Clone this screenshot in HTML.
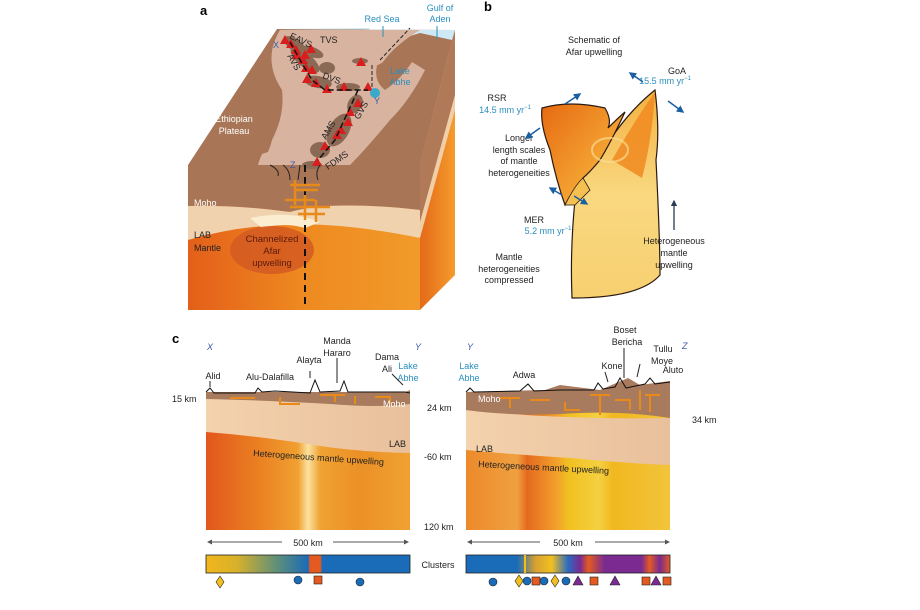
<!DOCTYPE html>
<html><head><meta charset="utf-8"><style>
body{margin:0;background:#fff}
svg{display:block;font-family:"Liberation Sans",sans-serif}
</style></head><body>
<svg width="920" height="610" viewBox="0 0 920 610">
<defs>
<linearGradient id="mant" x1="0" x2="1" y1="0" y2="0">
<stop offset="0" stop-color="#e45f1a"/><stop offset="0.5" stop-color="#ee8a20"/><stop offset="1" stop-color="#f19a2a"/></linearGradient>
<linearGradient id="rside" x1="0" x2="1"><stop offset="0" stop-color="#e46a18"/><stop offset="1" stop-color="#f59b2c"/></linearGradient>
<linearGradient id="ml" x1="0" x2="1">
<stop offset="0" stop-color="#e2571c"/><stop offset="0.25" stop-color="#ea7f22"/><stop offset="0.45" stop-color="#f0a030"/><stop offset="0.5" stop-color="#fbe2a0"/><stop offset="0.56" stop-color="#f0a232"/><stop offset="0.75" stop-color="#ec9026"/><stop offset="1" stop-color="#efa232"/></linearGradient>
<linearGradient id="mr" x1="0" x2="1">
<stop offset="0" stop-color="#ec8a2a"/><stop offset="0.25" stop-color="#f0a040"/><stop offset="0.3" stop-color="#e56a20"/><stop offset="0.45" stop-color="#f3a22c"/><stop offset="0.5" stop-color="#f1c020"/><stop offset="0.65" stop-color="#f5d040"/><stop offset="0.72" stop-color="#f0b820"/><stop offset="1" stop-color="#f3c43a"/></linearGradient>
<linearGradient id="tan" x1="0" x2="1"><stop offset="0" stop-color="#f3d2ac"/><stop offset="1" stop-color="#e9c09c"/></linearGradient>
<linearGradient id="cl" x1="0" x2="1">
<stop offset="0" stop-color="#f1b61c"/><stop offset="0.15" stop-color="#d8b12a"/><stop offset="0.35" stop-color="#5e8f7a"/><stop offset="0.5" stop-color="#1a6bb8"/><stop offset="0.51" stop-color="#e55a20"/><stop offset="0.56" stop-color="#e55a20"/><stop offset="0.57" stop-color="#1a6bb8"/><stop offset="1" stop-color="#1a6bb8"/></linearGradient>
<linearGradient id="cr" x1="0" x2="1">
<stop offset="0" stop-color="#1a6bb8"/><stop offset="0.25" stop-color="#1a6bb8"/><stop offset="0.34" stop-color="#d8a030"/><stop offset="0.42" stop-color="#f1c020"/><stop offset="0.5" stop-color="#2b6bc0"/><stop offset="0.56" stop-color="#7a2a90"/><stop offset="0.6" stop-color="#e45a20"/><stop offset="0.68" stop-color="#7a2a90"/><stop offset="0.86" stop-color="#7a2a90"/><stop offset="0.9" stop-color="#e45a20"/><stop offset="0.95" stop-color="#7a2a90"/><stop offset="1" stop-color="#e45a20"/></linearGradient>
<linearGradient id="bg1" x1="0" x2="1" y1="0" y2="1"><stop offset="0" stop-color="#e66a12"/><stop offset="0.6" stop-color="#f3a030"/><stop offset="1" stop-color="#f7c860"/></linearGradient>
<linearGradient id="bg2" x1="0" x2="0" y1="0" y2="1"><stop offset="0" stop-color="#f3b040"/><stop offset="0.5" stop-color="#f9d880"/><stop offset="1" stop-color="#f7d070"/></linearGradient>
<marker id="ab" viewBox="0 0 10 10" refX="8" refY="5" markerWidth="5" markerHeight="5" orient="auto"><path d="M0,0L10,5L0,10z" fill="#1a5fa0"/></marker>
<marker id="ak" viewBox="0 0 10 10" refX="8" refY="5" markerWidth="5" markerHeight="5" orient="auto"><path d="M0,0L10,5L0,10z" fill="#2a3a55"/></marker>
<marker id="ag" viewBox="0 0 10 10" refX="8" refY="5" markerWidth="5" markerHeight="5" orient="auto"><path d="M0,0L10,5L0,10z" fill="#555"/></marker>
</defs>

<!-- PANEL A -->
<text x="200" y="15" font-size="13" font-weight="bold">a</text>
<polygon points="420,165 455,30 455,275 420,310" fill="url(#rside)"/>
<polygon points="420,165 455,30 455,95 420,222" fill="#b07a58"/>
<polygon points="420,222 455,95 455,110 420,238" fill="#f0cfa8"/>
<rect x="188" y="165" width="232" height="145" fill="url(#mant)"/>
<path d="M188,165H420V210Q330,200 290,212Q240,205 188,206Z" fill="#a87656"/>
<path d="M188,206Q240,205 290,212Q330,200 420,210V238Q340,222 290,225Q240,225 188,240Z" fill="#f0d2ae"/>
<path d="M250,218Q290,210 320,222L305,228Q285,222 262,228Z" fill="#fbeed0"/>
<ellipse cx="272" cy="250" rx="42" ry="24" fill="#d45a22" opacity="0.85"/>
<polygon points="188,165 277,29 455,30 420,165" fill="#a87656"/>
<path d="M277,29 L455,30 L452,40 L420,33 L380,45 L372,60 L360,48 L370,28Z" fill="#cfe8f5"/>
<path d="M280,30 L370,30 Q385,45 378,62 Q372,80 385,90 Q400,80 412,62 L425,70 Q410,100 390,120 Q365,150 350,165 L258,165 Q262,150 272,140 Q285,115 282,90 Q262,60 280,30Z" fill="#d8b4a0"/>
<path d="M330,30 L420,30 Q395,45 383,62 Q372,70 366,62 Q345,45 330,36Z" fill="#d8b4a0"/>
<path d="M200,150 Q225,100 262,88 Q282,120 268,152 Q240,162 205,162Z" fill="#a87656"/>
<text x="234" y="122" font-size="9" fill="#fff" text-anchor="middle">Ethiopian</text>
<text x="234" y="134" font-size="9" fill="#fff" text-anchor="middle">Plateau</text>
<g fill="#8b6a55">
<ellipse cx="295" cy="45" rx="13" ry="6" transform="rotate(35 295 45)"/>
<ellipse cx="305" cy="60" rx="18" ry="7" transform="rotate(40 305 60)"/>
<ellipse cx="312" cy="52" rx="12" ry="5" transform="rotate(20 312 52)"/>
<ellipse cx="327" cy="68" rx="8" ry="6"/>
<ellipse cx="318" cy="82" rx="14" ry="6" transform="rotate(10 318 82)"/>
<ellipse cx="348" cy="87" rx="12" ry="4"/>
<ellipse cx="360" cy="61" rx="8" ry="3"/>
<ellipse cx="355" cy="104" rx="7" ry="10" transform="rotate(30 355 104)"/>
<ellipse cx="339" cy="130" rx="10" ry="18" transform="rotate(30 339 130)"/>
<ellipse cx="320" cy="150" rx="10" ry="8"/>
<ellipse cx="312" cy="165" rx="10" ry="4"/>
</g>
<g fill="#d91e1e">
<polygon points="285,35 290,44 280,44"/><polygon points="291,39 296,48 286,48"/><polygon points="296,45 301,54 291,54"/>
<polygon points="297,50 302,59 292,59"/><polygon points="305,50 310,59 300,59"/><polygon points="311,44 316,53 306,53"/>
<polygon points="303,55 308,64 298,64"/><polygon points="306,63 311,72 301,72"/><polygon points="316,78 321,87 311,87"/>
<polygon points="312,65 317,74 307,74"/><polygon points="307,74 312,83 302,83"/><polygon points="327,84 332,93 322,93"/>
<polygon points="344,82 349,91 339,91"/><polygon points="368,82 373,91 363,91"/><polygon points="361,57 366,66 356,66"/>
<polygon points="358,98 363,107 353,107"/><polygon points="350,107 355,116 345,116"/><polygon points="348,117 353,126 343,126"/>
<polygon points="341,125 346,134 336,134"/><polygon points="337,130 342,139 332,139"/><polygon points="325,141 330,150 320,150"/>
<polygon points="317,157 322,166 312,166"/>
</g>
<circle cx="375" cy="93" r="5" fill="#3aa8c8"/>
<path d="M290,42 L300,60 L312,80 L325,90 L368,90 M358,90 L335,140 L318,160" stroke="#111" stroke-width="1.5" stroke-dasharray="6,3" fill="none"/>
<path d="M372,65 V88 M380,60 L410,28" stroke="#222" stroke-width="1" stroke-dasharray="4,2" fill="none"/>
<path d="M305,165 V305" stroke="#111" stroke-width="2" stroke-dasharray="7,5"/>
<g stroke="#e88a1a" stroke-width="2.5" fill="none">
<path d="M290,185H320M295,190H318M285,200H315M290,207H330M298,214H325M305,195V220M295,180V205M316,200V222"/>
</g>
<g stroke="#222" stroke-width="1" fill="none"><path d="M283,165 Q290,170 290,180 M300,165 L298,180 M320,165 Q315,172 318,180 M270,165Q280,170 278,176"/></g>
<g font-size="9" fill="#222">
<text x="289" y="38" transform="rotate(25 289 38)">EAVS</text>
<text x="320" y="43">TVS</text>
<text x="287" y="56" transform="rotate(60 287 56)">AVS</text>
<text x="322" y="78" transform="rotate(20 322 78)">DVS</text>
<text x="359" y="120" transform="rotate(-60 359 120)">GVS</text>
<text x="326" y="140" transform="rotate(-60 326 140)">AMS</text>
<text x="328" y="170" transform="rotate(-35 328 170)">FDMS</text>
<text x="194" y="206" fill="#fff">Moho</text>
<text x="194" y="238">LAB</text>
<text x="194" y="251">Mantle</text>
</g>
<text x="272" y="242" font-size="9.5" fill="#5a1a0a" text-anchor="middle">Channelized</text>
<text x="272" y="254" font-size="9.5" fill="#5a1a0a" text-anchor="middle">Afar</text>
<text x="272" y="266" font-size="9.5" fill="#5a1a0a" text-anchor="middle">upwelling</text>
<g font-size="9" fill="#3d5aa8"><text x="273" y="48">X</text><text x="374" y="104">Y</text><text x="290" y="168">Z</text></g>
<g font-size="9" fill="#2a8ec0">
<text x="382" y="22" text-anchor="middle">Red Sea</text>
<text x="440" y="11" text-anchor="middle">Gulf of</text><text x="440" y="22" text-anchor="middle">Aden</text>
<text x="400" y="74" text-anchor="middle">Lake</text><text x="400" y="85" text-anchor="middle">Abhe</text>
</g>
<path d="M383,26V37M437,26V39" stroke="#2a8ec0" stroke-width="1"/>

<!-- PANEL B -->
<text x="484" y="11" font-size="13" font-weight="bold">b</text>
<path d="M575,200 Q578,185 582,175 Q600,165 610,140 Q630,110 655,90 Q660,130 656,160 Q660,240 660,275 Q640,298 572,298 Q570,250 575,200Z" fill="url(#bg2)" stroke="#2a1a10" stroke-width="1.2"/>
<path d="M612,160 Q635,120 655,92 Q652,140 642,178Z" fill="#f08a20" opacity="0.85"/>
<path d="M542,108 Q570,100 605,108 Q612,120 608,128 Q618,118 625,112 Q612,140 600,160 Q590,172 583,178 Q570,195 565,205 Q556,180 550,150 Q540,125 542,108Z" fill="url(#bg1)" stroke="#2a1a10" stroke-width="1.2"/>
<path d="M565,205 Q575,185 583,178 L590,190 Q580,200 575,205Z" fill="#f5c050" stroke="#2a1a10" stroke-width="0.8"/>
<ellipse cx="610" cy="150" rx="18" ry="12" fill="none" stroke="#fbdc90" stroke-width="2" opacity="0.7"/>
<g font-size="9" fill="#222" text-anchor="middle">
<text x="594" y="43">Schematic of</text><text x="594" y="55">Afar upwelling</text>
<text x="677" y="74">GoA</text>
<text x="497" y="101">RSR</text>
<text x="519" y="141">Longer</text><text x="519" y="153">length scales</text><text x="519" y="164">of mantle</text><text x="519" y="176">heterogeneities</text>
<text x="534" y="223">MER</text>
<text x="509" y="260">Mantle</text><text x="509" y="272">heterogeneities</text><text x="509" y="283">compressed</text>
<text x="674" y="244">Heterogeneous</text><text x="674" y="256">mantle</text><text x="674" y="268">upwelling</text>
</g>
<g font-size="9" fill="#2a8ec0" text-anchor="middle">
<text x="665" y="84">15.5 mm yr<tspan font-size="6" dy="-4">−1</tspan></text>
<text x="505" y="113">14.5 mm yr<tspan font-size="6" dy="-4">−1</tspan></text>
<text x="548" y="234">5.2 mm yr<tspan font-size="6" dy="-4">−1</tspan></text>
</g>
<g stroke="#1a5fa0" stroke-width="1.5" marker-end="url(#ab)">
<line x1="565" y1="104" x2="580" y2="94"/><line x1="540" y1="128" x2="526" y2="138"/>
<line x1="643" y1="82" x2="630" y2="73"/><line x1="668" y1="101" x2="683" y2="112"/>
<line x1="562" y1="195" x2="550" y2="188"/><line x1="574" y1="196" x2="587" y2="204"/>
</g>
<line x1="674" y1="230" x2="674" y2="201" stroke="#2a3a55" stroke-width="1.3" marker-end="url(#ak)"/>

<!-- PANEL C -->
<text x="172" y="343" font-size="13" font-weight="bold">c</text>
<rect x="206" y="392" width="204" height="138" fill="url(#ml)"/>
<path d="M206,398 Q300,400 410,404 V453 Q360,452 320,446 Q260,436 206,432Z" fill="url(#tan)"/>
<path d="M206,392 L405,392 L410,390 V404 Q380,408 330,404 Q260,400 206,399Z" fill="#a87a5e"/>
<path d="M206,392 L210,388 L214,393 L255,393 L258,388 L262,392 L275,391 L310,393 L315,380 L320,392 L340,391 L344,381 L348,392 L405,392 L410,393" stroke="#111" stroke-width="1" fill="none"/>
<g stroke="#e88a1a" stroke-width="2" fill="none"><path d="M230,398H255M280,397V404H300M320,395H345M335,395V402M355,396V404M375,397H390V404"/></g>
<rect x="466" y="392" width="204" height="138" fill="url(#mr)"/>
<path d="M466,410 Q560,420 670,418 V465 Q620,463 570,458 Q520,455 466,450Z" fill="url(#tan)"/>
<path d="M466,392 L545,390 L560,385 L600,390 L628,378 L640,385 L670,381 V418 Q620,410 560,414 Q510,416 466,410Z" fill="#a87a5e"/>
<path d="M466,392 L470,388 L474,392 L520,391 L528,384 L534,391 L560,390 L594,390 L598,383 L603,389 L615,387 L620,378 L626,388 L645,384 L650,378 L655,384 L670,382" stroke="#111" stroke-width="1" fill="none"/>
<g stroke="#e88a1a" stroke-width="2" fill="none"><path d="M500,398H520M510,398V408M530,400H550M565,402V410H580M590,395H610M600,395V415M615,400H630V410M640,390V410M645,395H660M650,395V412"/></g>
<g font-size="9" fill="#222">
<text x="213" y="379" text-anchor="middle">Alid</text>
<text x="270" y="380" text-anchor="middle">Alu-Dalafilla</text>
<text x="309" y="363" text-anchor="middle">Alayta</text>
<text x="337" y="344" text-anchor="middle">Manda</text><text x="337" y="356" text-anchor="middle">Hararo</text>
<text x="387" y="360" text-anchor="middle">Dama</text><text x="387" y="372" text-anchor="middle">Ali</text>
<text x="524" y="378" text-anchor="middle">Adwa</text>
<text x="612" y="369" text-anchor="middle">Kone</text>
<text x="625" y="333" text-anchor="middle">Boset</text><text x="627" y="345" text-anchor="middle">Bericha</text>
<text x="663" y="352" text-anchor="middle">Tullu</text><text x="662" y="364" text-anchor="middle">Moye</text>
<text x="673" y="373" text-anchor="middle">Aluto</text>
<text x="172" y="402">15 km</text>
<text x="427" y="411">24 km</text>
<text x="424" y="460">-60 km</text>
<text x="424" y="530">120 km</text>
<text x="692" y="423">34 km</text>
<text x="438" y="568" text-anchor="middle">Clusters</text>
<text x="308" y="546" text-anchor="middle">500 km</text>
<text x="568" y="546" text-anchor="middle">500 km</text>
<text x="253" y="456" transform="rotate(4 253 456)">Heterogeneous mantle upwelling</text>
<text x="478" y="467" transform="rotate(3 478 467)">Heterogeneous mantle upwelling</text>
<text x="383" y="407" fill="#fff">Moho</text>
<text x="478" y="402" fill="#fff">Moho</text>
<text x="389" y="447">LAB</text>
<text x="476" y="452">LAB</text>
</g>
<g font-size="9" fill="#3d5aa8" font-style="italic"><text x="207" y="350">X</text><text x="415" y="350">Y</text><text x="467" y="350">Y</text><text x="682" y="349">Z</text></g>
<g font-size="9" fill="#2a8ec0" text-anchor="middle">
<text x="408" y="369">Lake</text><text x="408" y="381">Abhe</text>
<text x="469" y="369">Lake</text><text x="469" y="381">Abhe</text></g>
<g stroke="#222" stroke-width="1">
<path d="M210,381V387M310,371V378M337,358V383M392,374L403,385M624,348V378M640,364L637,377M605,372L608,382"/></g>
<g stroke="#555" stroke-width="1" marker-end="url(#ag)">
<line x1="282" y1="542" x2="208" y2="542"/><line x1="333" y1="542" x2="408" y2="542"/>
<line x1="540" y1="542" x2="468" y2="542"/><line x1="595" y1="542" x2="669" y2="542"/></g>
<rect x="206" y="555" width="204" height="18" fill="url(#cl)" stroke="#222" stroke-width="0.8"/>
<rect x="466" y="555" width="204" height="18" fill="url(#cr)" stroke="#222" stroke-width="0.8"/>
<rect x="524" y="555" width="2" height="18" fill="#f1c020"/>
<g stroke="#222" stroke-width="0.6">
<polygon points="220,576 224,582 220,588 216,582" fill="#f1c020"/>
<circle cx="298" cy="580" r="4" fill="#1a6bb8"/><rect x="314" y="576" width="8" height="8" fill="#e55a20"/>
<circle cx="360" cy="582" r="4" fill="#1a6bb8"/>
<circle cx="493" cy="582" r="4" fill="#1a6bb8"/>
<polygon points="519,575 523,581 519,587 515,581" fill="#f1c020"/>
<circle cx="527" cy="581" r="4" fill="#1a6bb8"/><rect x="532" y="577" width="8" height="8" fill="#e55a20"/>
<circle cx="544" cy="581" r="4" fill="#1a6bb8"/>
<polygon points="555,575 559,581 555,587 551,581" fill="#f1c020"/>
<circle cx="566" cy="581" r="4" fill="#1a6bb8"/>
<polygon points="578,576 583,585 573,585" fill="#7a2a90"/>
<rect x="590" y="577" width="8" height="8" fill="#e55a20"/>
<polygon points="615,576 620,585 610,585" fill="#7a2a90"/>
<rect x="642" y="577" width="8" height="8" fill="#e55a20"/>
<polygon points="656,576 661,585 651,585" fill="#7a2a90"/>
<rect x="663" y="577" width="8" height="8" fill="#e55a20"/>
</g>
</svg>
</body></html>
